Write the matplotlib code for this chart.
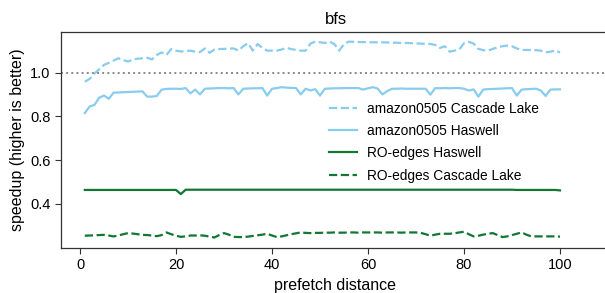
import matplotlib
matplotlib.use("Agg")
import matplotlib.pyplot as plt
import numpy as np

plt.rcParams['font.family'] = ['Liberation Sans', 'DejaVu Sans']

distance = list(range(1, 101))

amazon_cascade = [
    0.958, 0.971, 0.995, 1.015, 1.035, 1.044, 1.055, 1.065, 1.057, 1.050,
    1.060, 1.063, 1.065, 1.067, 1.060, 1.080, 1.092, 1.080, 1.107, 1.100,
    1.096, 1.098, 1.100, 1.095, 1.093, 1.110, 1.090, 1.105, 1.107, 1.108,
    1.109, 1.110, 1.100, 1.120, 1.134, 1.100, 1.130, 1.112, 1.100, 1.100,
    1.100, 1.105, 1.113, 1.107, 1.103, 1.100, 1.100, 1.132, 1.141, 1.138,
    1.135, 1.141, 1.130, 1.100, 1.130, 1.141, 1.140, 1.139, 1.139, 1.138,
    1.138, 1.138, 1.138, 1.137, 1.136, 1.136, 1.135, 1.135, 1.134, 1.133,
    1.132, 1.131, 1.130, 1.126, 1.112, 1.120, 1.095, 1.100, 1.105, 1.134,
    1.140, 1.132, 1.108, 1.102, 1.100, 1.108, 1.115, 1.120, 1.123, 1.120,
    1.110, 1.103, 1.103, 1.103, 1.102, 1.100, 1.092, 1.095, 1.100, 1.092,
]

amazon_haswell = [
    0.815, 0.845, 0.852, 0.885, 0.895, 0.880, 0.908, 0.909, 0.910, 0.911,
    0.912, 0.913, 0.914, 0.890, 0.890, 0.893, 0.922, 0.925, 0.926, 0.926,
    0.925, 0.929, 0.905, 0.922, 0.900, 0.926, 0.927, 0.928, 0.929, 0.929,
    0.928, 0.929, 0.900, 0.926, 0.927, 0.928, 0.928, 0.929, 0.895, 0.926,
    0.929, 0.933, 0.931, 0.930, 0.929, 0.900, 0.926, 0.918, 0.924, 0.895,
    0.926, 0.927, 0.928, 0.928, 0.929, 0.929, 0.929, 0.929, 0.922, 0.928,
    0.933, 0.927, 0.900, 0.915, 0.926, 0.926, 0.927, 0.926, 0.926, 0.926,
    0.926, 0.926, 0.899, 0.929, 0.928, 0.929, 0.928, 0.929, 0.929, 0.926,
    0.918, 0.923, 0.890, 0.922, 0.924, 0.925, 0.926, 0.927, 0.928, 0.929,
    0.895, 0.922, 0.924, 0.925, 0.926, 0.918, 0.893, 0.922, 0.923, 0.923,
]

ro_haswell = [0.464] * 20 + [0.445] + [0.465] * 69 + [0.464] * 9 + [0.462]

ro_cascade = [
    0.255, 0.256, 0.257, 0.258, 0.259, 0.256, 0.252, 0.256, 0.262, 0.267,
    0.265, 0.262, 0.259, 0.258, 0.256, 0.253, 0.258, 0.270, 0.262, 0.255,
    0.250, 0.252, 0.256, 0.256, 0.257, 0.255, 0.251, 0.247, 0.258, 0.267,
    0.260, 0.250, 0.249, 0.249, 0.251, 0.254, 0.257, 0.260, 0.264, 0.256,
    0.249, 0.252, 0.257, 0.262, 0.266, 0.270, 0.268, 0.267, 0.268, 0.268,
    0.269, 0.269, 0.270, 0.269, 0.269, 0.270, 0.270, 0.269, 0.270, 0.270,
    0.270, 0.270, 0.269, 0.270, 0.270, 0.270, 0.269, 0.270, 0.270, 0.270,
    0.268, 0.262, 0.255, 0.260, 0.264, 0.264, 0.264, 0.266, 0.270, 0.273,
    0.262, 0.252, 0.255, 0.260, 0.264, 0.267, 0.258, 0.249, 0.252, 0.258,
    0.264, 0.270, 0.260, 0.252, 0.252, 0.252, 0.252, 0.252, 0.252, 0.251,
]

labels = ["amazon0505 Cascade Lake", "amazon0505 Haswell",
          "RO-edges Haswell", "RO-edges Cascade Lake"]
light_blue = "#88CCEE"
green = "#117733"

fig = plt.figure(figsize=(6.05, 2.93), dpi=100)
ax = fig.add_axes([61/605, 1 - 248/293, (610 - 61)/605, (248 - 32)/293])

ax.plot(distance, amazon_cascade, color=light_blue, ls='--', lw=1.6, label=labels[0])
ax.plot(distance, amazon_haswell, color=light_blue, ls='-', lw=1.6, label=labels[1])
ax.plot(distance, ro_haswell, color=green, ls='-', lw=1.6, label=labels[2])
ax.plot(distance, ro_cascade, color=green, ls='--', lw=1.6, label=labels[3])
ax.axhline(1.0, color='#888888', ls=':', lw=1.4)

ax.set_xlim(-3.96, -3.96 + (610 - 61) / 4.8)
ax.set_ylim(0.199, 1.185)
ax.set_xticks([0, 20, 40, 60, 80, 100])
ax.set_yticks([0.4, 0.6, 0.8, 1.0])
ax.tick_params(labelsize=10.5, length=4, color='#333333')
for s in ax.spines.values():
    s.set_color('#333333')
    s.set_linewidth(0.9)

ax.set_title("bfs", fontsize=12)
ax.set_xlabel("prefetch distance", fontsize=11.5)
ax.set_ylabel("speedup (higher is better)", fontsize=11.5)
ax.legend(loc='center left', bbox_to_anchor=(0.466, 0.49), frameon=False,
          fontsize=9.9, labelspacing=0.6, handlelength=2.0, handletextpad=0.72)

fig.savefig("out.png", dpi=100)
